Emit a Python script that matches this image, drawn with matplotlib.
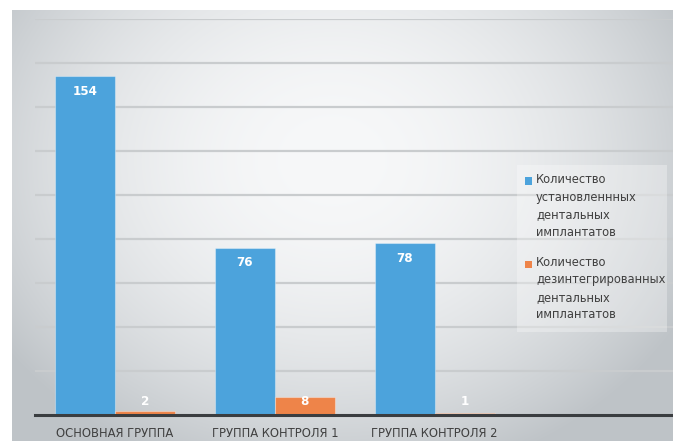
import numpy as np
import matplotlib
matplotlib.use("Agg")
import matplotlib.pyplot as plt
from matplotlib.patches import Rectangle

plt.rcParams['font.family'] = ['DejaVu Sans']
plt.rcParams['font.stretch'] = 'condensed'

# data
categories = ["ОСНОВНАЯ ГРУППА", "ГРУППА КОНТРОЛЯ 1", "ГРУППА КОНТРОЛЯ 2"]
installed = [154, 76, 78]
disintegrated = [2, 8, 1]
series_names = ["Количество\nустановленнных\nдентальных\nимплантатов",
                "Количество\nдезинтегрированных\nдентальных\nимплантатов"]
colors = ["#4ca3dc", "#ee8449"]

W, H = 673, 441
fig = plt.figure(figsize=(W / 100, H / 100), dpi=100)
fig.patch.set_facecolor("white")

# gradient panel behind the chart
bg = fig.add_axes([12 / W, 0, 1 - 12 / W, (H - 10) / H])
bg.set_axis_off()
yy, xx = np.mgrid[0:431, 0:661]
d = np.sqrt(((xx - 320) / 400.0) ** 2 + ((yy - 150) / 330.0) ** 2)
d = np.clip(d, 0, 1)
c0 = np.array([0xf7, 0xf8, 0xf9]) / 255
c1 = np.array([0xbe, 0xc3, 0xc7]) / 255
t = d[..., None] ** 2.0
img = c0[None, None, :] * (1 - t) + c1[None, None, :] * t
bg.imshow(img, aspect="auto", extent=[0, 1, 0, 1])

ax = fig.add_axes([35 / W, (H - 415) / H, 1 - 35 / W, (415 - 19) / H])
ax.patch.set_alpha(0)
x = np.arange(len(categories))
bw = 0.375
ax.bar(x - bw / 2, installed, bw, color=colors[0], edgecolor=(1, 1, 1, 0.35), linewidth=0.8, zorder=3)
ax.bar(x + bw / 2, disintegrated, bw, color=colors[1], edgecolor=(1, 1, 1, 0.35), linewidth=0.8, zorder=3)

ax.set_ylim(0, 180)
ax.set_xlim(-0.5, 3.49)
ax.set_yticks(range(20, 181, 20))
ax.yaxis.grid(True, color="#c9ccce", linewidth=1.6, zorder=1)
ax.set_axisbelow(True)
for s in ["top", "right", "left"]:
    ax.spines[s].set_visible(False)
ax.spines["bottom"].set_color("#3a3d40")
ax.spines["bottom"].set_linewidth(2.2)
ax.spines["bottom"].set_zorder(4)
ax.tick_params(left=False, labelleft=False, bottom=False)
ax.set_xticks(x)
ax.set_xticklabels(categories, fontsize=9.3, color="#404040")
ax.tick_params(axis="x", pad=5)

for xi, v in zip(x, installed):
    ax.text(xi - bw / 2, v - 6.8, str(v), ha="center", va="center",
            color="white", fontsize=9.5, fontweight="bold", zorder=5)
for xi, v in zip(x, disintegrated):
    ax.text(xi + bw / 2, 6.0, str(v), ha="center", va="center",
            color="white", fontsize=9.5, fontweight="bold", zorder=5)

# legend drawn by hand
fig.patches.append(Rectangle((517 / W, (H - 332) / H), 150 / W, 167 / H,
                             transform=fig.transFigure, facecolor="white",
                             alpha=0.3, edgecolor="none", zorder=5))
for i, (name, col) in enumerate(zip(series_names, colors)):
    ytop = 181 + i * 83
    fig.patches.append(Rectangle((525 / W, (H - ytop - 3.5) / H), 7 / W, 7 / H,
                                 transform=fig.transFigure, facecolor=col,
                                 edgecolor="none", zorder=6))
    fig.text(536 / W, (H - ytop + 8) / H, name, ha="left", va="top",
             fontsize=9.2, color="#404040", linespacing=1.45, zorder=6)

fig.savefig("out.png", dpi=100)
